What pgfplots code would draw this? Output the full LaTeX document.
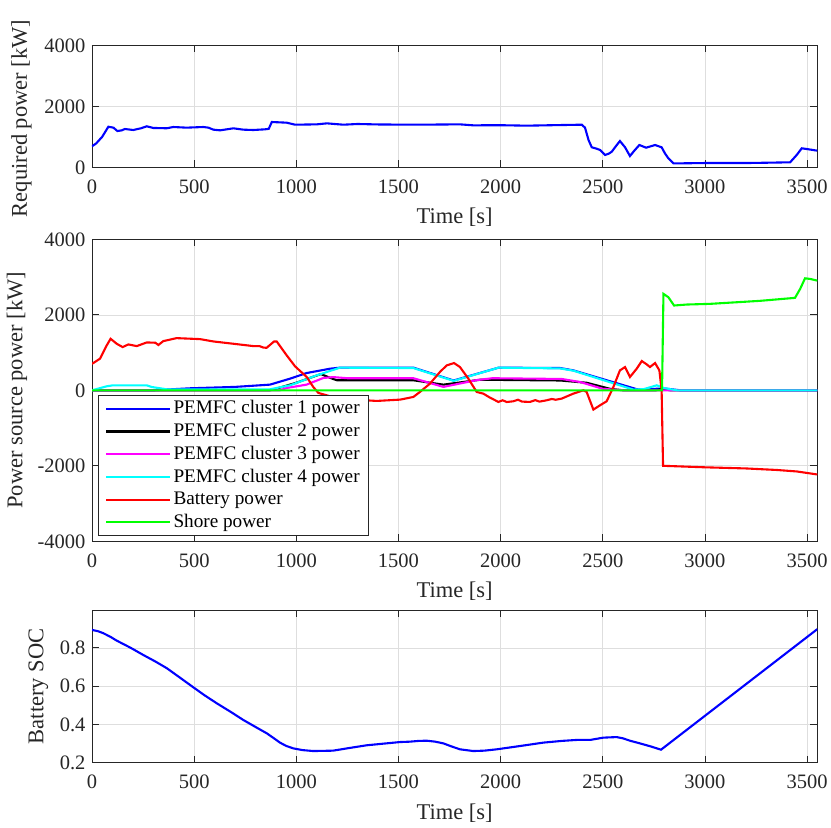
\documentclass[border=0pt]{standalone}
\usepackage{fontspec}
\setmainfont{Liberation Serif}
\usepackage{pgfplots}
\pgfplotsset{compat=1.18}

\definecolor{axgray}{rgb}{0.15,0.15,0.15}
\definecolor{gridgray}{rgb}{0.87,0.87,0.87}
\definecolor{cB}{rgb}{0,0,1}
\definecolor{cK}{rgb}{0,0,0}
\definecolor{cM}{rgb}{1,0,1}
\definecolor{cC}{rgb}{0,1,1}
\definecolor{cR}{rgb}{1,0,0}
\definecolor{cG}{rgb}{0,1,0}

\pgfplotsset{
  myax/.style={
    scale only axis, width=725.3pt,
    xmin=0, xmax=3550,
    xtick={0,500,...,3500},
    grid=major, major grid style={gridgray, line width=0.6pt},
    axis line style={axgray, line width=0.8pt},
    tick style={axgray, line width=0.8pt},
    tick align=inside, major tick length=7pt,
    /pgf/number format/assume math mode=true,
    /pgf/number format/1000 sep={},
    scaled ticks=false,
    tick label style={font=\fontsize{20.5}{24}\selectfont, text=axgray},
    label style={font=\fontsize{22.5}{26}\selectfont, text=axgray},
    xticklabel style={yshift=-9pt},
    yticklabel style={xshift=-3pt},
    xlabel={Time [s]},
    xlabel style={at={(axis description cs:0.5,0)}, anchor=center, yshift=-50pt},
  },
  ln/.style={line width=2.1pt},
}

\begin{document}
\begin{tikzpicture}
\useasboundingbox (0pt,0pt) rectangle (831pt,-828pt);

% ---------------- top axis ----------------
\begin{axis}[myax, at={(92pt,-45.3pt)}, anchor=north west, height=122pt,
  ymin=0, ymax=4000, ytick={0,2000,4000},
  ylabel={Required power [kW]},
  ylabel style={at={(axis description cs:-0.0972,0.40)}, anchor=center}]
\addplot[ln, cB] coordinates {
(0,690) (20,780) (50,1000) (80,1330) (105,1300) (124,1190) (145,1210) (161,1256)
(202,1223) (240,1280) (268,1344) (300,1290) (366,1280) (398,1321) (463,1300)
(545,1321) (570,1300) (594,1234) (627,1212) (692,1278) (741,1234) (790,1223)
(847,1245) (865,1260) (880,1485) (953,1463) (994,1397) (1100,1408) (1150,1441)
(1230,1397) (1300,1420) (1400,1405) (1556,1397) (1650,1400) (1801,1408) (1866,1376)
(2000,1380) (2128,1365) (2250,1380) (2397,1397) (2413,1300) (2430,900) (2446,656)
(2470,610) (2487,567) (2511,403) (2530,450) (2544,512) (2565,700) (2584,862)
(2609,656) (2633,370) (2655,550) (2679,731) (2712,643) (2756,731) (2788,656)
(2805,450) (2821,295) (2846,131) (2895,131) (3000,140) (3200,140) (3300,150)
(3417,164) (3449,403) (3474,623) (3498,600) (3550,545)
};
\end{axis}

% ---------------- middle axis ----------------
\begin{axis}[myax, at={(92pt,-239.3pt)}, anchor=north west, height=302pt,
  ymin=-4000, ymax=4000, ytick={-4000,-2000,0,2000,4000},
  ylabel={Power source power [kW]},
  ylabel style={at={(axis description cs:-0.1034,0.5)}, anchor=center},
  legend cell align=left,
  legend style={at={(axis description cs:0.0083,0.4844)}, anchor=north west,
    draw=axgray, line width=0.8pt, fill=white,
    font=\fontsize{19.2}{22}\selectfont, text=black,
    inner xsep=7pt, inner ysep=2pt, row sep=0pt,
    nodes={inner sep=2pt, text height=14.5pt, text depth=4.2pt}},
  legend image code/.code={\draw[#1, line width=2.1pt] (0pt,0pt) -- (64pt,0pt);},
  ]
\addplot[ln, cB] coordinates {
(0,0) (300,0) (400,30) (480,53) (700,90) (871,150) (969,308) (1051,458) (1165,572)
(1214,600) (1573,600) (1770,260) (1990,600) (2291,590) (2356,528) (2666,30)
(2700,10) (2760,40) (2800,50) (2880,0) (3550,0)
};
\addlegendentry{PEMFC cluster 1 power}
\addplot[ln, cK] coordinates {
(0,0) (870,0) (900,40) (1000,200) (1120,430) (1180,300) (1200,265) (1573,265)
(1720,150) (1900,280) (2291,260) (2421,200) (2535,40) (2600,0) (2760,0) (2790,40)
(2830,0) (3550,0)
};
\addlegendentry{PEMFC cluster 2 power}
\addplot[ln, cM] coordinates {
(0,0) (920,0) (953,62) (1050,150) (1132,326) (1180,350) (1250,320) (1573,320)
(1720,90) (1883,270) (1960,320) (2300,300) (2389,220) (2500,40) (2600,0) (3550,0)
};
\addlegendentry{PEMFC cluster 3 power}
\addplot[ln, cC] coordinates {
(0,0) (72,106) (100,130) (268,132) (292,88) (366,26) (871,26) (969,132) (1100,396)
(1214,600) (1573,590) (1770,250) (1990,600) (2291,580) (2356,520) (2650,18)
(2700,30) (2764,132) (2800,60) (2862,0) (3550,0)
};
\addlegendentry{PEMFC cluster 4 power}
\addplot[ln, cR] coordinates {
(0,700) (39,837) (72,1189) (91,1365) (121,1233) (150,1145) (178,1215) (219,1171)
(268,1268) (310,1260) (325,1200) (349,1303) (414,1382) (529,1356) (594,1294)
(692,1233) (790,1171) (820,1170) (840,1130) (855,1127) (891,1294) (904,1294)
(953,925) (994,634) (1051,352) (1083,88) (1108,-70) (1165,-158) (1261,-238)
(1393,-282) (1508,-247) (1573,-176) (1605,-44) (1654,176) (1703,485) (1736,660)
(1772,722) (1801,616) (1842,308) (1883,-44) (1915,-88) (1948,-194) (1989,-308)
(2010,-265) (2030,-310) (2062,-291) (2085,-250) (2105,-300) (2144,-308) (2170,-260)
(2190,-300) (2226,-264) (2250,-230) (2270,-250) (2299,-220) (2356,-88) (2405,0)
(2421,-44) (2454,-511) (2487,-396) (2519,-291) (2552,88) (2584,528) (2609,616)
(2633,352) (2666,572) (2691,775) (2715,687) (2731,616) (2756,722) (2777,528)
(2788,0) (2795,-2000) (3000,-2040) (3200,-2070) (3350,-2110) (3450,-2150) (3550,-2230)
};
\addlegendentry{Battery power}
\addplot[ln, cG] coordinates {
(0,0) (2790,0) (2797,2555) (2821,2466) (2849,2246) (2911,2272) (3025,2290)
(3270,2370) (3441,2449) (3466,2686) (3490,2967) (3515,2950) (3550,2906)
};
\addlegendentry{Shore power}
\end{axis}

% ---------------- bottom axis ----------------
\begin{axis}[myax, at={(92pt,-610pt)}, anchor=north west, height=152.7pt,
  ymin=0.2, ymax=0.998, ytick={0.2,0.4,0.6,0.8},
  ylabel={Battery SOC},
  ylabel style={at={(axis description cs:-0.0738,0.5)}, anchor=center}]
\addplot[ln, cB] coordinates {
(0,0.894) (30,0.887) (55,0.877) (90,0.858) (121,0.838) (190,0.800) (251,0.763)
(310,0.729) (366,0.694) (430,0.645) (496,0.594) (550,0.553) (610,0.511) (680,0.465)
(741,0.423) (800,0.387) (855,0.354) (890,0.328) (920,0.305) (950,0.288) (985,0.275)
(1030,0.266) (1083,0.261) (1180,0.263) (1260,0.277) (1344,0.291) (1430,0.300)
(1508,0.308) (1556,0.310) (1600,0.314) (1638,0.315) (1680,0.310) (1720,0.301)
(1760,0.285) (1801,0.270) (1866,0.261) (1920,0.263) (1981,0.270) (2100,0.288)
(2209,0.305) (2300,0.314) (2372,0.319) (2438,0.319) (2470,0.325) (2503,0.331)
(2568,0.334) (2600,0.327) (2633,0.315) (2682,0.301) (2735,0.285) (2785,0.268)
(3550,0.898)
};
\end{axis}
\end{tikzpicture}
\end{document}
